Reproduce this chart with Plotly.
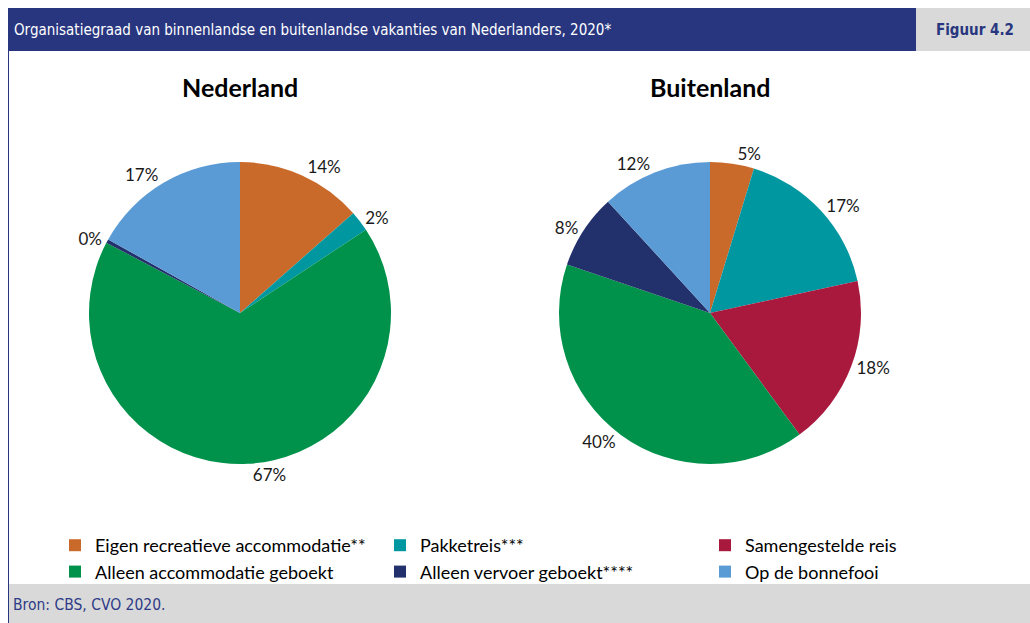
import plotly.graph_objects as go

W, H = 1030, 623

categories = [
    "Eigen recreatieve accommodatie**",
    "Pakketreis***",
    "Samengestelde reis",
    "Alleen accommodatie geboekt",
    "Alleen vervoer geboekt****",
    "Op de bonnefooi",
]
colors = ["#C96A2B", "#0097A0", "#A8193D", "#00924B", "#22306B", "#5B9BD5"]

# share of holidays (%)
nederland = [13.5, 2.2, 0.0, 67.0, 0.4, 16.9]
buitenland = [4.7, 16.9, 18.3, 40.3, 8.0, 11.8]

title = "Organisatiegraad van binnenlandse en buitenlandse vakanties van Nederlanders, 2020*"
figure_label = "Figuur 4.2"
source = "Bron: CBS, CVO 2020."
pie_titles = ["Nederland", "Buitenland"]


def px(x):
    return x / W


def py(y):
    return 1 - y / H


R = 151
centers = [(240, 313), (710, 313)]


def domain(cx, cy):
    return dict(x=[px(cx - R), px(cx + R)], y=[py(cy + R), py(cy - R)])


FONT = "Lato, Carlito, Calibri, sans-serif"
NARROW = "Liberation Sans Narrow, DejaVu Sans Condensed, Arial Narrow, sans-serif"

fig = go.Figure()
for vals, (cx, cy), show in [(buitenland, centers[1], True), (nederland, centers[0], False)]:
    fig.add_trace(go.Pie(
        labels=categories,
        values=vals,
        marker=dict(colors=colors, line=dict(width=0)),
        sort=False,
        direction="clockwise",
        rotation=0,
        textposition="outside",
        texttemplate=["%{percent:.0%}" if v > 0 else "" for v in vals],
        textfont=dict(family=FONT, size=17, color="#1a1a1a"),
        domain=domain(cx, cy),
        showlegend=show,
        hoverinfo="label+percent",
    ))

shapes = [
    dict(type="rect", xref="paper", yref="paper", x0=px(8), x1=px(916), y0=py(51), y1=py(8),
         fillcolor="#28367F", line=dict(width=0), layer="below"),
    dict(type="rect", xref="paper", yref="paper", x0=px(916), x1=px(1030), y0=py(51), y1=py(8),
         fillcolor="#D9D9D9", line=dict(width=0), layer="below"),
    dict(type="rect", xref="paper", yref="paper", x0=px(8), x1=px(1030), y0=py(623), y1=py(584),
         fillcolor="#D9D9D9", line=dict(width=0), layer="below"),
    dict(type="line", xref="paper", yref="paper", x0=px(8.5), x1=px(8.5), y0=py(623), y1=py(8),
         line=dict(color="#28367F", width=1)),
]

annotations = [
    dict(text=title, x=px(12), y=py(30), xanchor="left", yanchor="middle", showarrow=False,
         font=dict(family=NARROW, size=15, color="white"), xref="paper", yref="paper"),
    dict(text="<b>" + figure_label + "</b>", x=px(1016), y=py(30), xanchor="right", yanchor="middle",
         showarrow=False, font=dict(family=NARROW, size=15, color="#28367F"), xref="paper", yref="paper"),
    dict(text=source, x=px(11), y=py(605), xanchor="left", yanchor="middle", showarrow=False,
         font=dict(family=NARROW, size=15.5, color="#2E3B86"), xref="paper", yref="paper"),
]
for t, (cx, cy) in zip(pie_titles, centers):
    annotations.append(dict(text="<b>" + t + "</b>", x=px(cx), y=py(87), xanchor="center", yanchor="middle",
                            showarrow=False, font=dict(family=FONT, size=25, color="#000000"),
                            xref="paper", yref="paper"))

fig.update_layout(
    width=W, height=H,
    margin=dict(l=0, r=0, t=0, b=0),
    paper_bgcolor="white",
    plot_bgcolor="white",
    shapes=shapes,
    annotations=annotations,
    legend=dict(
        orientation="h",
        x=px(57), y=py(527), xanchor="left", yanchor="top",
        entrywidth=280, entrywidthmode="pixels",
        font=dict(family=FONT, size=18, color="#000000"),
        bgcolor="rgba(0,0,0,0)",
        traceorder="normal",
    ),
)

fig.write_html("out.html", config={"displayModeBar": False},
               post_script="document.body.style.margin='0px';")
